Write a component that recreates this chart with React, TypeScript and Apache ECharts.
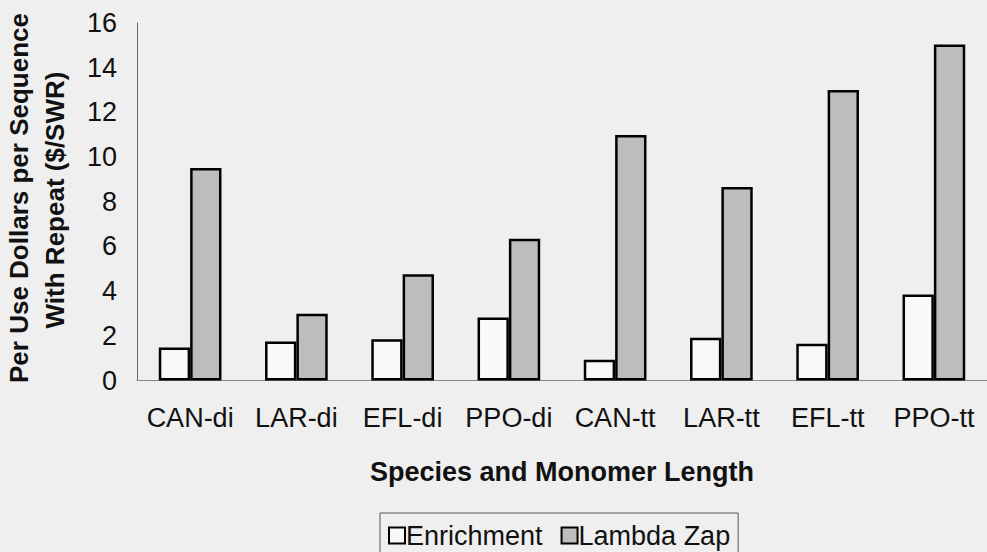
import React, { useEffect, useRef } from "react";
import * as echarts from "echarts";

const categories = ["CAN-di", "LAR-di", "EFL-di", "PPO-di", "CAN-tt", "LAR-tt", "EFL-tt", "PPO-tt"];
const enrichment = [1.48, 1.75, 1.85, 2.82, 0.93, 1.91, 1.64, 3.85];
const lambdaZap = [9.51, 2.99, 4.76, 6.34, 10.99, 8.66, 13.0, 15.04];
const seriesNames = ["Enrichment", "Lambda Zap"];
const yTitleLines = ["Per Use Dollars per Sequence", "With Repeat ($/SWR)"];
const xTitle = "Species and Monomer Length";

const FONT = "'Liberation Sans', Arial, sans-serif";

export default function App() {
  const ref = useRef<HTMLDivElement>(null);
  useEffect(() => {
    if (!ref.current) return;
    const chart = echarts.init(ref.current, undefined, { renderer: "svg" });
    chart.setOption({
      animation: false,
      backgroundColor: "#efefef",
      textStyle: { fontFamily: FONT },
      grid: { left: 137, top: 23, bottom: 171.5, width: 859, containLabel: false },
      legend: {
        data: seriesNames,
        left: 380,
        top: 513,
        orient: "horizontal",
        icon: "rect",
        itemWidth: 16,
        itemHeight: 16,
        itemGap: 18,
        padding: [9, 8, 20, 8],
        borderColor: "#555",
        borderWidth: 1,
        textStyle: { fontFamily: FONT, fontSize: 27, color: "#111", padding: [0, 0, 0, -4] },
      },
      xAxis: {
        type: "category",
        data: categories,
        axisLine: { lineStyle: { color: "#888", width: 1 } },
        axisTick: { show: false },
        axisLabel: { color: "#111", fontSize: 27, fontFamily: FONT, margin: 24, interval: 0, hideOverlap: false },
        name: xTitle,
        nameLocation: "middle",
        nameGap: 78,
        nameTextStyle: { color: "#111", fontSize: 27, fontWeight: "bold", fontFamily: FONT },
      },
      yAxis: {
        type: "value",
        min: 0,
        max: 16,
        interval: 2,
        axisLine: { show: true, lineStyle: { color: "#666", width: 1 } },
        axisTick: { show: false },
        splitLine: { show: false },
        axisLabel: { color: "#111", fontSize: 27, fontFamily: FONT, margin: 20 },
      },
      graphic: [
        {
          type: "text",
          x: 19,
          y: 198,
          rotation: Math.PI / 2,
          style: {
            text: yTitleLines[0],
            font: `bold 26px ${FONT}`,
            fill: "#111",
            align: "center",
            verticalAlign: "middle",
          },
        },
        {
          type: "text",
          x: 55,
          y: 200,
          rotation: Math.PI / 2,
          style: {
            text: yTitleLines[1],
            font: `bold 26px ${FONT}`,
            fill: "#111",
            align: "center",
            verticalAlign: "middle",
          },
        },
      ],
      series: [
        {
          name: seriesNames[0],
          type: "bar",
          data: enrichment,
          barGap: "0%",
          barCategoryGap: "41%",
          itemStyle: { color: "#f9f9f9", borderColor: "#000", borderWidth: 2.5 },
        },
        {
          name: seriesNames[1],
          type: "bar",
          data: lambdaZap,
          barGap: "0%",
          barCategoryGap: "41%",
          itemStyle: { color: "#bdbdbd", borderColor: "#000", borderWidth: 2.5 },
        },
      ],
    });
    return () => chart.dispose();
  }, []);
  return <div ref={ref} style={{ width: 987, height: 552, position: "absolute", left: 0, top: 0 }} />;
}
